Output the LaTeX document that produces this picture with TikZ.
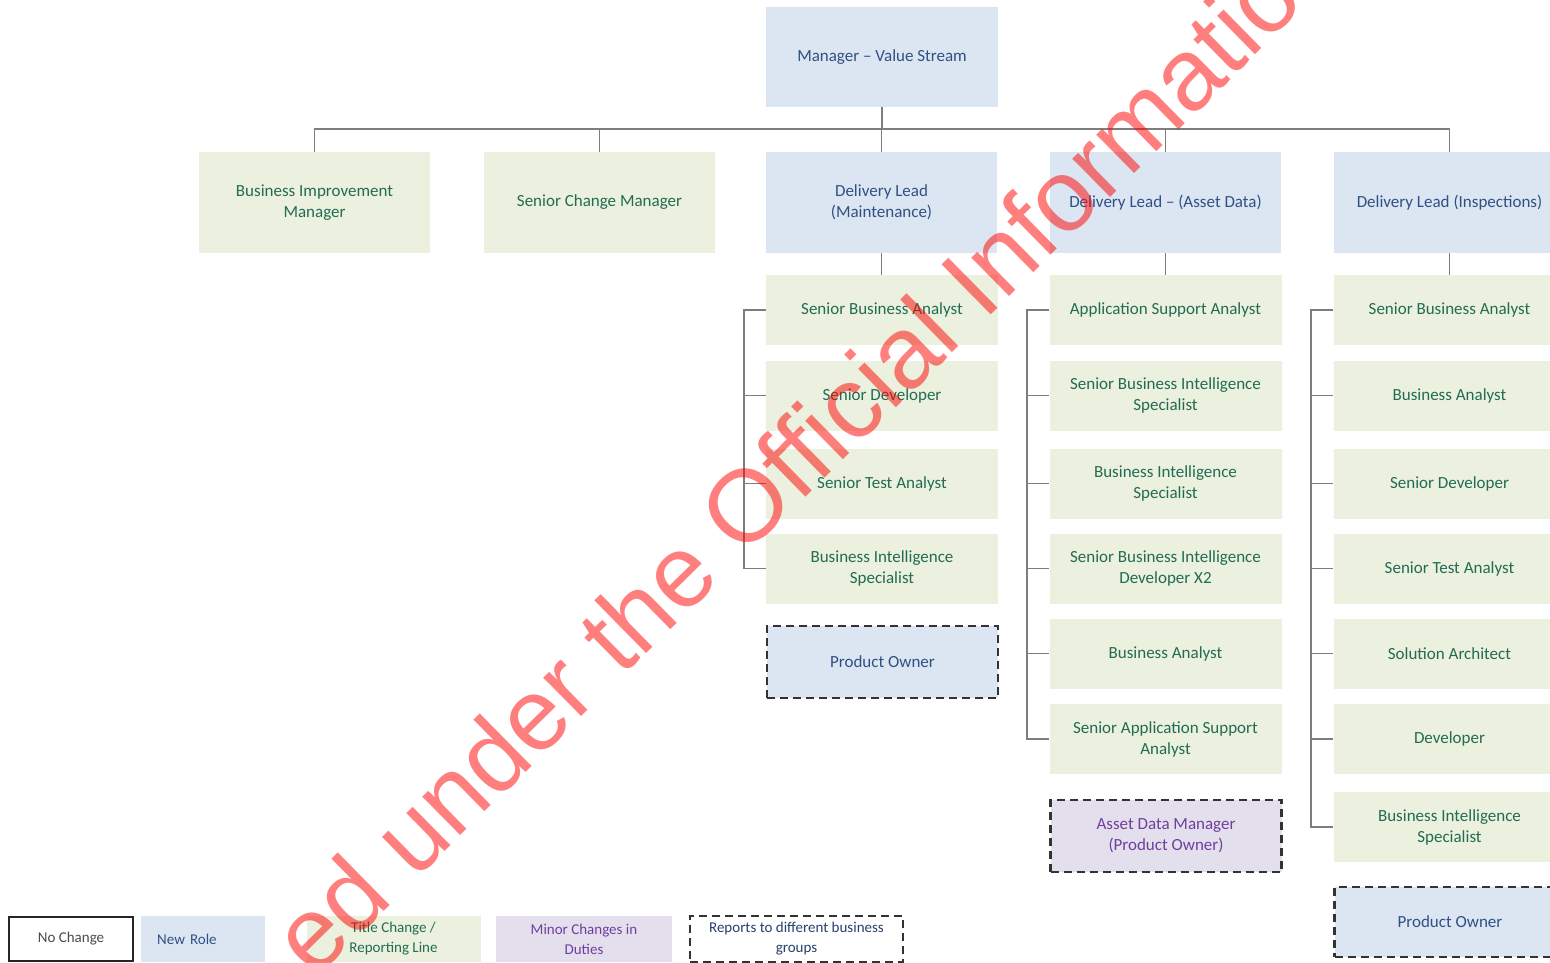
\documentclass[tikz,border=0pt]{standalone}
\usepackage{fontspec}
\setmainfont{Carlito}
\newfontfamily\wmfont{Liberation Sans}
\definecolor{grfill}{HTML}{EBF1DE}
\definecolor{grtext}{RGB}{34,108,82}
\definecolor{blfill}{HTML}{DCE6F2}
\definecolor{bltext}{RGB}{48,80,132}
\definecolor{pufill}{HTML}{E4DFEC}
\definecolor{putext}{RGB}{112,62,160}
\definecolor{linkgray}{RGB}{125,125,125}
\begin{document}
\begin{tikzpicture}[x=1pt,y=-1pt,
  box/.style={rectangle, inner sep=0pt, align=center,
    font=\fontsize{17}{21}\selectfont},
  headbox/.style={box, minimum width=231pt, minimum height=101pt},
  rolebox/.style={box, minimum width=232pt, minimum height=70pt},
  greenbox/.style={fill=grfill, text=grtext},
  bluebox/.style={fill=blfill, text=bltext},
  purplebox/.style={fill=pufill, text=putext},
  dashedge/.style={draw=black!80, line width=2.2pt, dash pattern=on 8pt off 5pt},
  link/.style={draw=linkgray, line width=1.4pt},
  legend/.style={rectangle, inner sep=0pt, align=center, minimum height=46pt,
    font=\fontsize{15}{20}\selectfont}
]
\useasboundingbox (0,0) rectangle (1550,963);
\clip (0,0) rectangle (1550,963);

% top manager
\node[box, bluebox, minimum width=232pt, minimum height=100pt] (mgr) at (882,57) {Manager -- Value Stream};

% second level
\node[headbox, greenbox] (bim) at (314.5,202.5) {Business Improvement\\Manager};
\node[headbox, greenbox] (scm) at (599.5,202.5) {Senior Change Manager};
\node[headbox, bluebox]  (dlm) at (881.5,202.5) {Delivery Lead\\(Maintenance)};
\node[headbox, bluebox]  (dla) at (1165.5,202.5) {Delivery Lead -- (Asset Data)};
\node[headbox, bluebox]  (dli) at (1449.5,202.5) {Delivery Lead (Inspections)};

% maintenance team
\node[rolebox, greenbox] (ma) at (882,310)   {Senior Business Analyst};
\node[rolebox, greenbox] (mb) at (882,395.5) {Senior Developer};
\node[rolebox, greenbox] (mc) at (882,483.5) {Senior Test Analyst};
\node[rolebox, greenbox] (md) at (882,568.5) {Business Intelligence\\Specialist};
\node[rolebox, bluebox, dashedge, minimum width=231pt, minimum height=72pt] (mpo) at (882.5,662) {Product Owner};

% asset data team
\node[rolebox, greenbox] (aa) at (1165.5,310)   {Application Support Analyst};
\node[rolebox, greenbox] (ab) at (1165.5,395.5) {Senior Business Intelligence\\Specialist};
\node[rolebox, greenbox] (ac) at (1165.5,483.5) {Business Intelligence\\Specialist};
\node[rolebox, greenbox] (ad) at (1165.5,568.5) {Senior Business Intelligence\\Developer X2};
\node[rolebox, greenbox] (ae) at (1165.5,653.5) {Business Analyst};
\node[rolebox, greenbox] (af) at (1165.5,739)   {Senior Application Support\\Analyst};
\node[rolebox, purplebox, dashedge, minimum width=231pt, minimum height=72pt] (apo) at (1166,836) {Asset Data Manager\\(Product Owner)};

% inspections team
\node[rolebox, greenbox] (ia) at (1449.5,310)   {Senior Business Analyst};
\node[rolebox, greenbox] (ib) at (1449.5,395.5) {Business Analyst};
\node[rolebox, greenbox] (ic) at (1449.5,483.5) {Senior Developer};
\node[rolebox, greenbox] (id) at (1449.5,568.5) {Senior Test Analyst};
\node[rolebox, greenbox] (ie) at (1449.5,653.5) {Solution Architect};
\node[rolebox, greenbox] (if) at (1449.5,739)   {Developer};
\node[rolebox, greenbox] (ig) at (1449.5,827)   {Business Intelligence\\Specialist};
\node[rolebox, bluebox, dashedge, minimum width=231pt, minimum height=70pt] (ipo) at (1450,922) {Product Owner};

% reporting lines from the top
\coordinate (bar) at (0,129);
\draw[link] (mgr.south) -- (mgr.south |- bar);
\draw[link] (bim.north) -- (bim.north |- bar) -- (dli.north |- bar) -- (dli.north);
\draw[link] (scm.north) -- (scm.north |- bar);
\draw[link] (dlm.north) -- (dlm.north |- bar);
\draw[link] (dla.north) -- (dla.north |- bar);

% leads to their teams
\draw[link] (dlm.south) -- (dlm.south |- ma.north);
\draw[link] (dla.south) -- (dla.south |- aa.north);
\draw[link] (dli.south) -- (dli.south |- ia.north);

% team brackets
\coordinate (bm) at (744,0);
\coordinate (ba) at (1027,0);
\coordinate (bi) at (1311,0);
\draw[link] (ma.west) -- (ma.west -| bm) -- (md.west -| bm) -- (md.west);
\foreach \n in {mb,mc} \draw[link] (\n.west) -- (\n.west -| bm);
\draw[link] (aa.west) -- (aa.west -| ba) -- (af.west -| ba) -- (af.west);
\foreach \n in {ab,ac,ad,ae} \draw[link] (\n.west) -- (\n.west -| ba);
\draw[link] (ia.west) -- (ia.west -| bi) -- (ig.west -| bi) -- (ig.west);
\foreach \n in {ib,ic,id,ie,if} \draw[link] (\n.west) -- (\n.west -| bi);

% legend
\node[legend, draw=black!85, line width=2.6pt, fill=white, text=black!70, minimum width=124pt, minimum height=44pt] (lgno) at (71,939) {No Change};
\node[legend, fill=blfill, text=bltext, anchor=west, text width=92pt, inner xsep=16pt, align=left] (lgnew) at (141,939) {New Role};
\node[legend, fill=grfill, text=grtext, minimum width=174pt] (lgtitle) at (393.5,939) {Title Change /\\Reporting Line};
\node[legend, fill=pufill, text=putext, minimum width=176pt] (lgminor) at (584,939) {Minor Changes in\\Duties};
\node[legend, dashedge, line width=2pt, text=bltext!80!black, minimum width=213pt] (lgrep) at (796.5,939) {Reports to different business\\groups};

% watermark
\node[anchor=base west, rotate=44.5, inner sep=0pt, text=red, text opacity=0.5,
  font=\wmfont\fontsize{102}{102}\selectfont] (wm) at (314,980) {ed under the Official Information};
\end{tikzpicture}
\end{document}
